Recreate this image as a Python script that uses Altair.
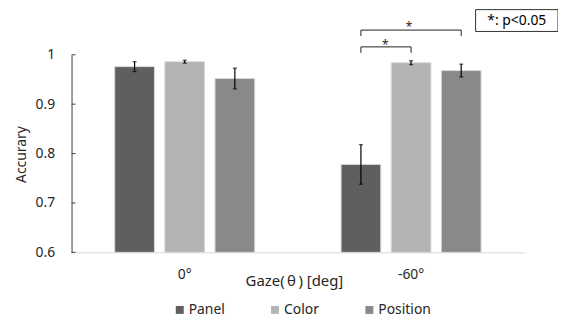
import altair as alt
import pandas as pd

gazes = ["0°", "-60°"]
series = ["Panel", "Color", "Position"]
colors = ["#5f5f5f", "#b4b4b4", "#898989"]
panel_vals = [0.976, 0.778]
color_vals = [0.986, 0.984]
position_vals = [0.952, 0.968]
panel_err = [0.010, 0.040]
color_err = [0.003, 0.004]
position_err = [0.021, 0.013]
y_ticks = [0.6, 0.7, 0.8, 0.9, 1.0]

# significance brackets (at -60°)
br_ids = ["b1", "b1", "b1", "b1", "b2", "b2", "b2", "b2"]
br_series = ["Panel", "Panel", "Position", "Position", "Panel", "Panel", "Color", "Color"]
br_vals = [1.038, 1.050, 1.050, 1.038, 1.004, 1.016, 1.016, 1.004]
br_order = [0, 1, 2, 3, 0, 1, 2, 3]
star_upper_val = 1.049
star_lower_val = 1.011

FONT = "Noto Sans"
TXT = "#262626"

rows = []
for s, vals, errs in zip(series, [panel_vals, color_vals, position_vals],
                         [panel_err, color_err, position_err]):
    for g, v, e in zip(gazes, vals, errs):
        rows.append({"gaze": g, "series": s, "value": v, "lo": v - e, "hi": v + e})
df = pd.DataFrame(rows)

br = pd.DataFrame({"gaze": "-60°", "id": br_ids, "series": br_series,
                   "value": br_vals, "order": br_order})
star_up = pd.DataFrame({"gaze": ["-60°"], "series": ["Color"], "value": [star_upper_val], "label": ["*"]})
star_lo = pd.DataFrame({"gaze": ["-60°"], "series": ["Color"], "value": [star_lower_val], "label": ["*"]})
ticks_df = pd.DataFrame({"t": y_ticks})

x_enc = alt.X("gaze:N", sort=gazes,
              scale=alt.Scale(domain=gazes, paddingInner=0, paddingOuter=0),
              axis=alt.Axis(title="Gaze(\u2009θ\u2009) [deg]", labelAngle=0, ticks=False, tickSize=0,
                            domainColor="#d9d9d9", domainWidth=1,
                            labelFontSize=14, labelFont=FONT, labelColor=TXT,
                            labelPadding=26, labelBaseline="alphabetic",
                            titleFontSize=15, titleFont=FONT, titleColor=TXT,
                            titleFontWeight="normal", titleX=224, titleY=33,
                            titleBaseline="alphabetic"))
xo_enc = alt.XOffset("series:N", sort=series,
                     scale=alt.Scale(domain=series, paddingInner=0.208, paddingOuter=0.861))
y_scale = alt.Scale(domain=[0.6, 1.0], nice=False, zero=False)
y_axis = alt.Axis(values=y_ticks, format="~g", title="Accurary", grid=False,
                  ticks=False, tickSize=0, domainColor="#404040", domainWidth=1,
                  labelFontSize=14, labelFont=FONT, labelColor=TXT, labelPadding=17,
                  titleFontSize=14, titleFont=FONT, titleColor=TXT,
                  titleFontWeight="normal", titleX=-46, titleY=100,
                  titleBaseline="alphabetic", titleAlign="center")


def yq(field):
    return alt.Y(field, scale=y_scale, axis=y_axis, title="Accurary")


bars = alt.Chart(df).mark_bar(stroke="#d9d9d9", strokeWidth=1).encode(
    x=x_enc,
    xOffset=xo_enc,
    y=yq("value:Q"),
    y2=alt.datum(0.6),
    color=alt.Color("series:N", sort=series,
                    scale=alt.Scale(domain=series, range=colors),
                    legend=alt.Legend(title=None, orient="none", direction="horizontal",
                                      legendX=102, legendY=250, symbolType="square",
                                      symbolSize=64, symbolStrokeWidth=0,
                                      labelFontSize=14, labelFont=FONT, labelColor=TXT,
                                      columnPadding=43, labelOffset=2)),
)

err_rule = alt.Chart(df).mark_rule(color="#000000", strokeWidth=1.2).encode(
    x=x_enc, xOffset=xo_enc, y=yq("lo:Q"), y2="hi:Q")
cap_lo = alt.Chart(df).mark_tick(color="#000000", orient="horizontal", size=4, thickness=1.2).encode(
    x=x_enc, xOffset=xo_enc, y=yq("lo:Q"))
cap_hi = alt.Chart(df).mark_tick(color="#000000", orient="horizontal", size=4, thickness=1.2).encode(
    x=x_enc, xOffset=xo_enc, y=yq("hi:Q"))

brackets = alt.Chart(br).mark_line(color="#202020", strokeWidth=1).encode(
    x=x_enc, xOffset=xo_enc, y=yq("value:Q"),
    detail="id:N", order="order:Q")

star_a = alt.Chart(star_up).mark_text(fontSize=12, font=FONT, color=TXT,
                                      baseline="alphabetic", dx=-2).encode(
    x=x_enc, xOffset=xo_enc, y=yq("value:Q"), text="label:N")
star_b = alt.Chart(star_lo).mark_text(fontSize=12, font=FONT, color=TXT,
                                      baseline="alphabetic", dx=-26).encode(
    x=x_enc, xOffset=xo_enc, y=yq("value:Q"), text="label:N")

inner_ticks = alt.Chart(ticks_df).mark_rule(color="#404040", strokeWidth=1).encode(
    y=yq("t:Q"), x=alt.value(0), x2=alt.value(4))

box = alt.Chart(pd.DataFrame({"a": [0]})).mark_rect(fill="white", stroke="#303030", strokeWidth=1).encode(
    x=alt.value(407), x2=alt.value(490), y=alt.value(-45.5), y2=alt.value(-23.5))
box_text = alt.Chart(pd.DataFrame({"label": ["*: p<0.05"]})).mark_text(
    fontSize=14, font=FONT, color="#000000", baseline="middle", align="center").encode(
    x=alt.value(448.5), y=alt.value(-34.5), text="label:N")

chart = alt.layer(bars, err_rule, cap_lo, cap_hi, brackets, star_a, star_b, inner_ticks, box, box_text).properties(
    width=456, height=199,
    autosize=alt.AutoSizeParams(type="none"),
    padding={"left": 64, "top": 46, "right": 34, "bottom": 64},
).configure_view(stroke=None)

chart.save("out.html", embed_options={"renderer": "svg", "actions": False})
